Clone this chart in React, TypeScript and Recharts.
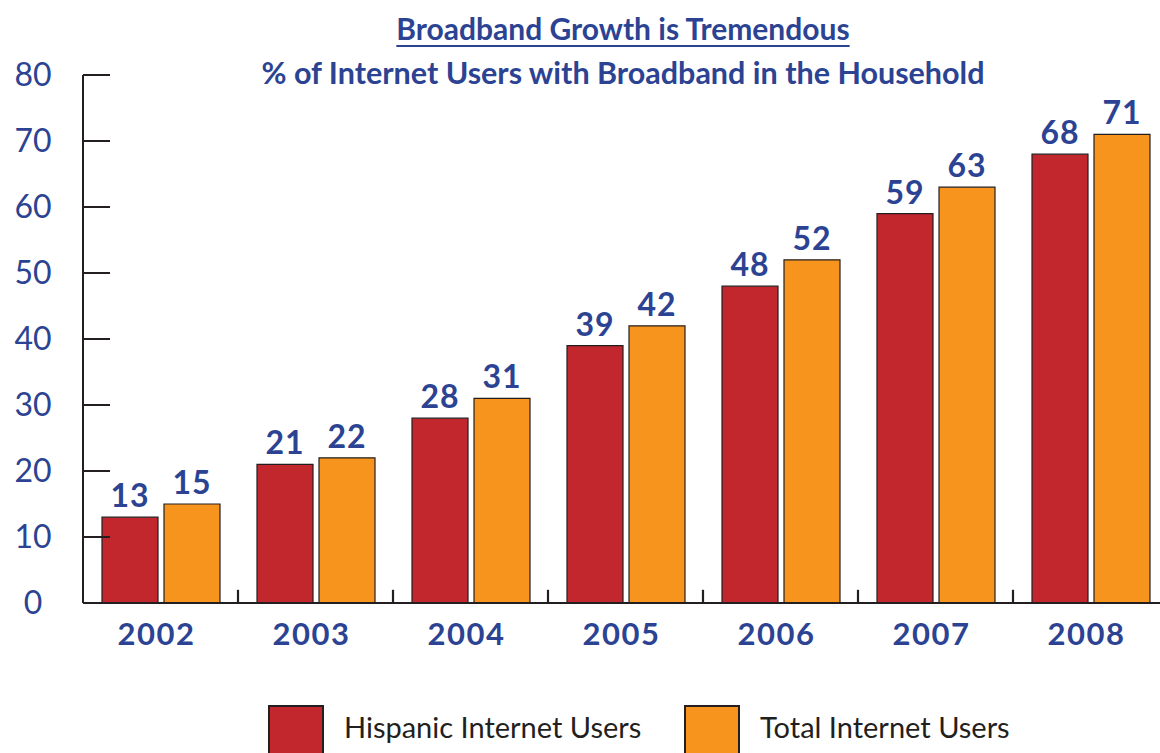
import React from "react";
import {
  BarChart,
  Bar,
  XAxis,
  YAxis,
  LabelList,
  ReferenceLine,
} from "recharts";

// Years along the bottom axis
const years = ["2002", "2003", "2004", "2005", "2006", "2007", "2008"];
// % of internet users with broadband at home
const hispanic = [13, 21, 28, 39, 48, 59, 68];
const total = [15, 22, 31, 42, 52, 63, 71];
const yTicks = [0, 10, 20, 30, 40, 50, 60, 70, 80];
// boundaries between year groups, on the hidden numeric axis
const dividers = [1, 2, 3, 4, 5, 6];

const BLUE = "#2B4392";
const RED = "#C1272D";
const ORANGE = "#F7941D";
const INK = "#231F20";
const FONT = "Lato, 'Open Sans', sans-serif";

const data = years.map((year, i) => ({
  year,
  idx: i + 0.5,
  hispanic: hispanic[i],
  total: total[i],
}));

function YTick({ y, payload }: any) {
  return (
    <text
      x={33}
      y={y}
      dy={11}
      textAnchor="middle"
      fill={BLUE}
      fontSize={32}
      fontFamily={FONT}
    >
      {payload.value}
    </text>
  );
}

function XTick({ x, y, payload }: any) {
  return (
    <text
      x={x - 4}
      y={y}
      dy={42}
      textAnchor="middle"
      fill={BLUE}
      fontSize={31}
      fontWeight={700}
      letterSpacing={1.5}
      fontFamily={FONT}
    >
      {payload.value}
    </text>
  );
}

function LegendItem({ left, color, label }: { left: number; color: string; label: string }) {
  return (
    <div style={{ position: "absolute", left, top: 705, display: "flex" }}>
      <div
        style={{
          width: 56,
          height: 52,
          background: color,
          border: `2px solid ${INK}`,
          boxSizing: "border-box",
        }}
      />
      <div
        style={{
          marginLeft: 20,
          marginTop: 4,
          fontFamily: FONT,
          fontSize: 29,
          color: INK,
          lineHeight: "36px",
        }}
      >
        {label}
      </div>
    </div>
  );
}

export default function App() {
  return (
    <div
      style={{
        position: "absolute",
        left: 0,
        top: 0,
        width: 1160,
        height: 753,
        overflow: "hidden",
        background: "#fff",
      }}
    >
      {/* Titles */}
      <div
        style={{
          position: "absolute",
          left: 0,
          width: 1246,
          top: 11,
          textAlign: "center",
          fontFamily: FONT,
          fontWeight: 700,
          fontSize: 30,
          lineHeight: "34px",
          color: BLUE,
          textDecoration: "underline",
          textDecorationThickness: 2,
          textUnderlineOffset: 5,
        }}
      >
        Broadband Growth is Tremendous
      </div>
      <div
        style={{
          position: "absolute",
          left: 0,
          width: 1246,
          top: 55,
          textAlign: "center",
          fontFamily: FONT,
          fontWeight: 700,
          fontSize: 30.5,
          lineHeight: "34px",
          color: BLUE,
        }}
      >
        % of Internet Users with Broadband in the Household
      </div>

      <BarChart
        width={1180}
        height={753}
        data={data}
        margin={{ top: 75, right: 12, bottom: 0, left: 0 }}
        barCategoryGap={19}
        barGap={6}
        style={{ position: "absolute", left: 0, top: 0 }}
      >
        <XAxis
          dataKey="year"
          height={150}
          axisLine={{ stroke: INK, strokeWidth: 2 }}
          tickLine={false}
          tickSize={0}
          tickMargin={0}
          tick={<XTick />}
          interval={0}
        />
        <XAxis
          xAxisId="b"
          dataKey="idx"
          type="number"
          domain={[0, 7]}
          allowDataOverflow
          hide
        />
        <YAxis
          width={83}
          domain={[0, 80]}
          ticks={yTicks}
          interval={0}
          axisLine={{ stroke: INK, strokeWidth: 2 }}
          tickLine={{ stroke: INK, strokeWidth: 2 }}
          tickSize={-27}
          tick={<YTick />}
        />
        {dividers.map((d) => (
          <ReferenceLine
            key={d}
            xAxisId="b"
            segment={[
              { x: d, y: 0 },
              { x: d, y: 2 },
            ]}
            stroke={INK}
            strokeWidth={2.2}
            ifOverflow="visible"
          />
        ))}
        <Bar
          dataKey="hispanic"
          fill={RED}
          stroke={INK}
          strokeWidth={1.2}
          barSize={56}
          isAnimationActive={false}
        >
          <LabelList
            dataKey="hispanic"
            position="top"
            offset={10}
            fill={BLUE}
            fontSize={32}
            fontWeight={700}
            letterSpacing={1}
            fontFamily={FONT}
          />
        </Bar>
        <Bar
          dataKey="total"
          fill={ORANGE}
          stroke={INK}
          strokeWidth={1.2}
          barSize={56}
          isAnimationActive={false}
        >
          <LabelList
            dataKey="total"
            position="top"
            offset={10}
            fill={BLUE}
            fontSize={32}
            fontWeight={700}
            letterSpacing={1}
            fontFamily={FONT}
          />
        </Bar>
      </BarChart>

      <LegendItem left={268} color={RED} label="Hispanic Internet Users" />
      <LegendItem left={684} color={ORANGE} label="Total Internet Users" />
    </div>
  );
}
